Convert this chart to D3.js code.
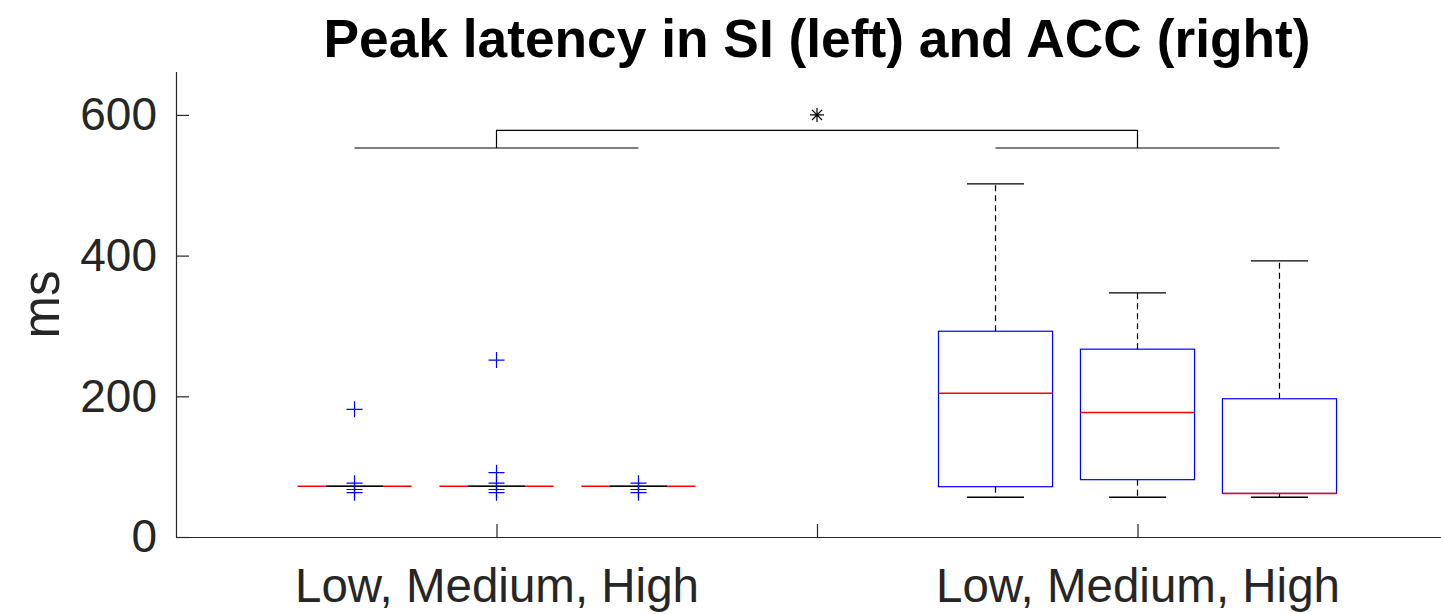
<!DOCTYPE html>
<html>
<head>
<meta charset="utf-8">
<script src="https://cdn.jsdelivr.net/npm/d3@7"></script>
<style>
  html, body { margin: 0; padding: 0; background: #fff; }
  svg { display: block; }
  text { font-family: "Liberation Sans", Arial, Helvetica, sans-serif; }
</style>
</head>
<body>
<svg id="chart" width="1441" height="614"></svg>
<script>
// Peak latency per condition: SI (Low, Medium, High) then ACC (Low, Medium, High)
const conditions   = ["SI Low", "SI Medium", "SI High", "ACC Low", "ACC Medium", "ACC High"];
const groupOf      = [0, 0, 0, 1, 1, 1];
const lowerWhisker = [72, 72, 72, 56.5, 56.5, 56.5];
const q1           = [72, 72, 72, 71.5, 81.5, 62];
const median       = [72, 72, 72, 204.5, 177, 62];
const q3           = [72, 72, 72, 292.5, 267, 196.5];
const upperWhisker = [72, 72, 72, 502, 347, 392.5];
const outliers     = [
  [181.5, 76.5, 67.5, 63],
  [251.5, 91.5, 76.5, 67.5, 63],
  [76.5, 67.5, 63],
  [], [], []
];
const xTickValues = [1, 2, 3];
const xTickLabels = ["Low, Medium, High", "", "Low, Medium, High"];
const yTickValues = [0, 200, 400, 600];
const titleText   = "Peak latency in SI (left) and ACC (right)";
const yLabelText  = "ms";
// significance bracket between the two regions
const bracketLevel = 553;
const bracketTop   = 578;
const starLevel    = 600;

const svg = d3.select("#chart");
const axisColor = "#262626";

const x = d3.scaleLinear().domain([0, 4]).range([176, 1458]);
const y = d3.scaleLinear().domain([0, 661]).range([537, 72]);

const groupCenters = [1, 3];
const offset = 0.443;     // spacing between boxes within a region
const boxW = 0.356;       // box width in x units
const centerOf = i => groupCenters[groupOf[i]] + (i % 3 - 1) * offset;

// axes
const xAxis = d3.axisBottom(x)
  .tickValues(xTickValues)
  .tickFormat((d, i) => xTickLabels[i])
  .tickSizeInner(-13).tickSizeOuter(0).tickPadding(31);
const gx = svg.append("g").attr("transform", `translate(0,${y(0)})`).call(xAxis);

const yAxis = d3.axisLeft(y)
  .tickValues(yTickValues)
  .tickSizeInner(-13).tickSizeOuter(0).tickPadding(19);
const gy = svg.append("g").attr("transform", `translate(${x(0)},0)`).call(yAxis);

[gx, gy].forEach(g => {
  g.select(".domain").attr("stroke", axisColor).attr("stroke-width", 1.2);
  g.selectAll(".tick line").attr("stroke", axisColor).attr("stroke-width", 1.2);
  g.selectAll(".tick text").attr("fill", axisColor);
});
gx.selectAll(".tick text").attr("font-size", 47.5);
gy.selectAll(".tick text").attr("font-size", 46);
gy.select(".domain").attr("d", `M0.5,${y(0)}V${y(661)}`);

// title and y label
svg.append("text")
  .attr("x", x(2)).attr("y", 57)
  .attr("text-anchor", "middle")
  .attr("font-size", 53.3).attr("font-weight", "bold").attr("fill", "#000")
  .text(titleText);

svg.append("text")
  .attr("transform", `translate(59,${(y(0) + y(661)) / 2}) rotate(-90)`)
  .attr("text-anchor", "middle")
  .attr("font-size", 51).attr("fill", axisColor)
  .text(yLabelText);

// boxes
const plot = svg.append("g");
conditions.forEach((c, i) => {
  const cx = x(centerOf(i));
  const halfW = (x(boxW) - x(0)) / 2;
  const capHalf = halfW / 2;
  const g = plot.append("g");

  // dashed whiskers
  g.append("line")
    .attr("x1", cx).attr("x2", cx).attr("y1", y(q3[i])).attr("y2", y(upperWhisker[i]))
    .attr("stroke", "#000").attr("stroke-width", 1.2).attr("stroke-dasharray", "6,4");
  g.append("line")
    .attr("x1", cx).attr("x2", cx).attr("y1", y(q1[i])).attr("y2", y(lowerWhisker[i]))
    .attr("stroke", "#000").attr("stroke-width", 1.2).attr("stroke-dasharray", "6,4");

  // box
  g.append("rect")
    .attr("x", cx - halfW).attr("width", 2 * halfW)
    .attr("y", y(q3[i])).attr("height", y(q1[i]) - y(q3[i]))
    .attr("fill", "none").attr("stroke", "#0000ff").attr("stroke-width", 1.2);

  // median
  g.append("line")
    .attr("x1", cx - halfW).attr("x2", cx + halfW)
    .attr("y1", y(median[i])).attr("y2", y(median[i]))
    .attr("stroke", "#ff0000").attr("stroke-width", 1.5);

  // whisker caps
  [upperWhisker[i], lowerWhisker[i]].forEach(v => {
    g.append("line")
      .attr("x1", cx - capHalf).attr("x2", cx + capHalf)
      .attr("y1", y(v)).attr("y2", y(v))
      .attr("stroke", "#000").attr("stroke-width", 1.3);
  });

  // outliers as '+'
  g.selectAll("path.out").data(outliers[i]).join("path")
    .attr("class", "out")
    .attr("d", v => `M${cx - 8},${y(v)}H${cx + 8}M${cx},${y(v) - 8}V${y(v) + 8}`)
    .attr("stroke", "#0000ff").attr("stroke-width", 1.2).attr("fill", "none");
});

// significance bracket
const br = svg.append("g").attr("stroke", "#000").attr("stroke-width", 1.2).attr("fill", "none");
[0, 1].forEach(gi => {
  const a = conditions.findIndex((c, i) => groupOf[i] === gi);
  const b = a + 2;
  br.append("line")
    .attr("x1", x(centerOf(a))).attr("x2", x(centerOf(b)))
    .attr("y1", y(bracketLevel)).attr("y2", y(bracketLevel));
});
br.append("path")
  .attr("d", `M${x(groupCenters[0])},${y(bracketLevel)}V${y(bracketTop)}H${x(groupCenters[1])}V${y(bracketLevel)}`);

// asterisk marker
const sx = x(2), sy = y(starLevel), r = 7, rd = r * 0.72;
svg.append("path")
  .attr("d", `M${sx - r},${sy}H${sx + r}M${sx},${sy - r}V${sy + r}` +
             `M${sx - rd},${sy - rd}L${sx + rd},${sy + rd}M${sx - rd},${sy + rd}L${sx + rd},${sy - rd}`)
  .attr("stroke", "#000").attr("stroke-width", 1.2).attr("fill", "none");
</script>
</body>
</html>
